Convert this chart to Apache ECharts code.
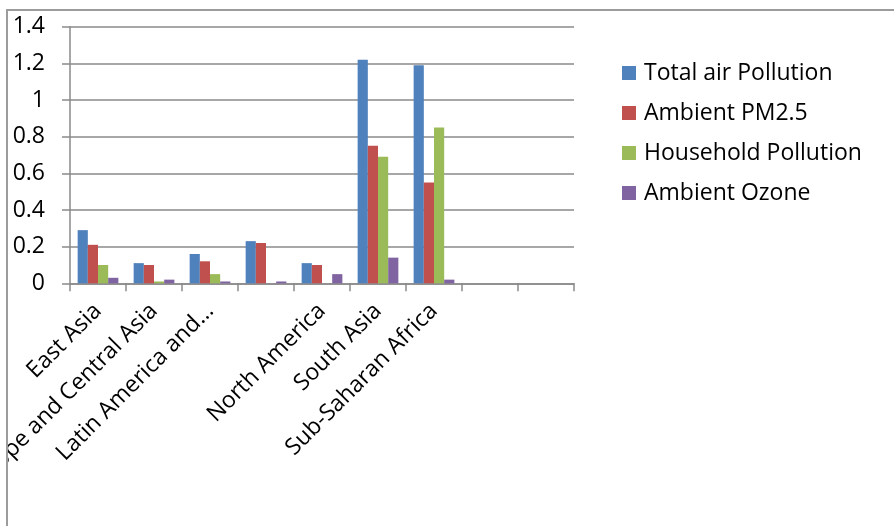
<!DOCTYPE html>
<html>
<head>
<meta charset="utf-8">
<script src="https://cdn.jsdelivr.net/npm/echarts@6/dist/echarts.min.js"></script>
<style>
  html, body { margin: 0; padding: 0; background: #ffffff; }
  #chart { position: absolute; left: 0; top: 0; width: 894px; height: 526px; }
  #clip { position: absolute; left: 0; top: 0; width: 6px; height: 526px; background: #ffffff; }
  #frame { position: absolute; left: 6px; top: 9px; width: 890px; height: 520px;
           border-left: 2px solid #9c9c9c; border-top: 2px solid #9c9c9c; pointer-events: none; }
</style>
</head>
<body>
<div id="chart"></div>
<div id="clip"></div>
<div id="frame"></div>
<script>
// ---- data ----
const categories = [
  'East Asia',
  'Europe and Central Asia',
  'Latin America and…',
  '',
  'North America',
  'South Asia',
  'Sub-Saharan Africa',
  '',
  ''
];
const seriesNames = ['Total air Pollution', 'Ambient PM2.5', 'Household Pollution', 'Ambient Ozone'];
const totalAirPollution  = [0.29, 0.11, 0.16, 0.23, 0.11, 1.22, 1.19, null, null];
const ambientPM25        = [0.21, 0.10, 0.12, 0.22, 0.10, 0.75, 0.55, null, null];
const householdPollution = [0.10, 0.01, 0.05, 0.00, 0.00, 0.69, 0.85, null, null];
const ambientOzone       = [0.03, 0.02, 0.01, 0.01, 0.05, 0.14, 0.02, null, null];
const yTicks = [0, 0.2, 0.4, 0.6, 0.8, 1, 1.2, 1.4];

const colors = ['#4F81BD', '#C0504D', '#9BBB59', '#8064A2'];
const valueSets = [totalAirPollution, ambientPM25, householdPollution, ambientOzone];
const FONT = '"Open Sans", "Noto Sans", sans-serif';

const chart = echarts.init(document.getElementById('chart'), null, { renderer: 'canvas' });
chart.setOption({
  animation: false,
  color: colors,
  textStyle: { fontFamily: FONT },
  legend: {
    orient: 'vertical',
    left: 617,
    top: 56,
    itemWidth: 14,
    itemHeight: 14,
    itemGap: 16,
    icon: 'rect',
    textStyle: { fontFamily: FONT, fontSize: 23, color: '#000000', lineHeight: 24, padding: [0, 0, 0, 3] },
    data: seriesNames
  },
  grid: { left: 70, right: 320, top: 26.7, bottom: 242.7, containLabel: false, outerBoundsMode: 'none' },
  xAxis: {
    type: 'category',
    data: categories,
    boundaryGap: true,
    axisLine: { show: true, lineStyle: { color: '#8a8a8a', width: 1.5 } },
    axisTick: { show: true, length: 8, lineStyle: { color: '#8a8a8a', width: 1.5 } },
    axisLabel: {
      interval: 0, rotate: 45, margin: 24,
      fontFamily: FONT, fontSize: 23, color: '#000000'
    },
    splitLine: { show: false }
  },
  yAxis: {
    type: 'value',
    min: yTicks[0],
    max: yTicks[yTicks.length - 1],
    interval: 0.2,
    axisLine: { show: true, lineStyle: { color: '#8a8a8a', width: 1.5 } },
    axisTick: { show: true, length: 8, inside: false, lineStyle: { color: '#8a8a8a', width: 1.5 } },
    axisLabel: {
      margin: 25, fontFamily: FONT, fontSize: 23, color: '#000000',
      formatter: function (v) { return String(Math.round(v * 10) / 10); }
    },
    splitLine: { show: true, lineStyle: { color: '#8a8a8a', width: 1.5 } }
  },
  series: seriesNames.map(function (name, i) {
    return {
      name: name,
      type: 'bar',
      data: valueSets[i],
      barGap: '0%',
      barCategoryGap: '27.3%',
      itemStyle: { color: colors[i] }
    };
  })
});
</script>
</body>
</html>
